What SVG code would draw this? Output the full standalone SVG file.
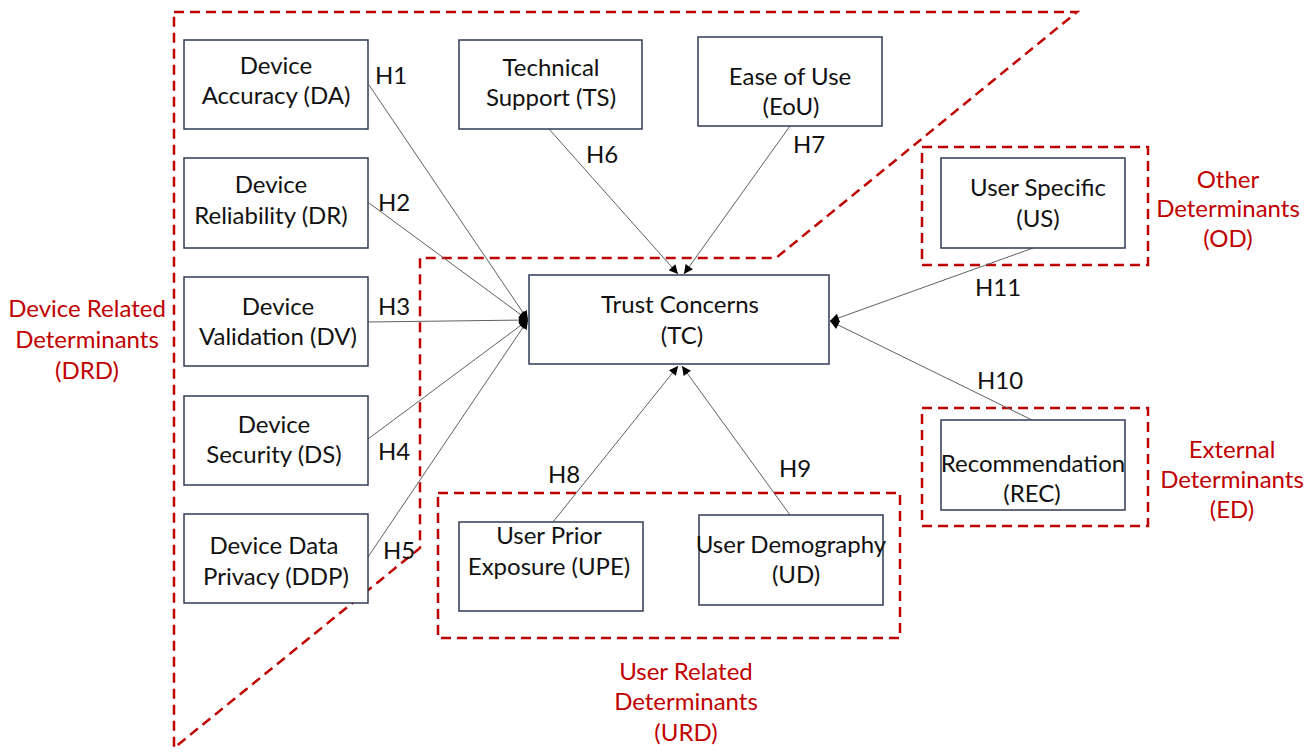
<svg xmlns="http://www.w3.org/2000/svg" width="1315" height="752" viewBox="0 0 1315 752">
  <style>
    .box { fill: #ffffff; stroke: #2f3b55; stroke-width: 1.5; }
    .region { fill: none; stroke: #c00000; stroke-width: 2.5; stroke-dasharray: 10 6; }
    .link { stroke: #606060; stroke-width: 1; fill: none; marker-end: url(#head); }
    .t { font-family: Lato, "Liberation Sans", sans-serif; font-size: 24px; fill: #111111; text-anchor: middle; }
    .h { font-family: Lato, "Liberation Sans", sans-serif; font-size: 24px; fill: #111111; }
    .r { font-family: Lato, "Liberation Sans", sans-serif; font-size: 24px; fill: #c00000; text-anchor: middle; }
  </style>
  <defs>
    <marker id="head" viewBox="0 0 10 10" refX="10" refY="5" markerWidth="10" markerHeight="9" markerUnits="userSpaceOnUse" orient="auto">
      <path d="M0,0 L10,5 L0,10 z" fill="#000000"/>
    </marker>
  </defs>

  <!-- dashed determinant regions -->
  <g id="regions">
    <polygon id="drd-region" class="region" points="174,12 1077,12 776,258 420,258 420,548 174,748"/>
    <rect id="od-region" class="region" x="922" y="147" width="226" height="118"/>
    <rect id="ed-region" class="region" x="922" y="408" width="226" height="118"/>
    <rect id="urd-region" class="region" x="438" y="493" width="462" height="145"/>
  </g>

  <!-- hypothesis connectors -->
  <g id="connectors">
    <line class="link" x1="369" y1="85" x2="528" y2="320"/>
    <line class="link" x1="369" y1="203" x2="528" y2="320"/>
    <line class="link" x1="368" y1="322" x2="528" y2="320"/>
    <line class="link" x1="368" y1="439" x2="528" y2="320"/>
    <line class="link" x1="368" y1="557" x2="528" y2="320"/>
    <line class="link" x1="549" y1="129" x2="678" y2="274"/>
    <line class="link" x1="790" y1="126" x2="684" y2="274"/>
    <line class="link" x1="553" y1="522" x2="678" y2="366"/>
    <line class="link" x1="790" y1="515" x2="682" y2="366"/>
    <line class="link" x1="1033" y1="248" x2="830" y2="321"/>
    <line class="link" x1="1032" y1="420" x2="830" y2="321"/>
  </g>

  <!-- hypothesis labels -->
  <g id="hypotheses">
    <text class="h" x="375" y="84">H1</text>
    <text class="h" x="378" y="211">H2</text>
    <text class="h" x="378" y="315">H3</text>
    <text class="h" x="378" y="460">H4</text>
    <text class="h" x="383" y="559">H5</text>
    <text class="h" x="586" y="163">H6</text>
    <text class="h" x="793" y="153">H7</text>
    <text class="h" x="548" y="483">H8</text>
    <text class="h" x="779" y="477">H9</text>
    <text class="h" x="977" y="389">H10</text>
    <text class="h" x="975" y="296">H11</text>
  </g>

  <!-- construct nodes -->
  <g id="node-da">
    <rect class="box" x="184" y="40" width="184" height="89"/>
    <text class="t" x="276" y="74">Device</text>
    <text class="t" x="276" y="104">Accuracy (DA)</text>
  </g>
  <g id="node-dr">
    <rect class="box" x="184" y="158" width="184" height="90"/>
    <text class="t" x="271" y="193">Device</text>
    <text class="t" x="271" y="224">Reliability (DR)</text>
  </g>
  <g id="node-dv">
    <rect class="box" x="184" y="277" width="184" height="89"/>
    <text class="t" x="278" y="315">Device</text>
    <text class="t" x="278" y="345">Validation (DV)</text>
  </g>
  <g id="node-ds">
    <rect class="box" x="184" y="396" width="184" height="89"/>
    <text class="t" x="274" y="433">Device</text>
    <text class="t" x="274" y="463">Security (DS)</text>
  </g>
  <g id="node-ddp">
    <rect class="box" x="184" y="514" width="184" height="89"/>
    <text class="t" x="274" y="554">Device Data</text>
    <text class="t" x="276" y="585">Privacy (DDP)</text>
  </g>
  <g id="node-ts">
    <rect class="box" x="459" y="40" width="183" height="89"/>
    <text class="t" x="551" y="76">Technical</text>
    <text class="t" x="551" y="106">Support (TS)</text>
  </g>
  <g id="node-eou">
    <rect class="box" x="698" y="37" width="184" height="89"/>
    <text class="t" x="790" y="85">Ease of Use</text>
    <text class="t" x="791" y="115">(EoU)</text>
  </g>
  <g id="node-tc">
    <rect class="box" x="529" y="275" width="300" height="89"/>
    <text class="t" x="680" y="313">Trust Concerns</text>
    <text class="t" x="682" y="344">(TC)</text>
  </g>
  <g id="node-us">
    <rect class="box" x="941" y="158" width="184" height="90"/>
    <text class="t" x="1038" y="196">User Specific</text>
    <text class="t" x="1038" y="227">(US)</text>
  </g>
  <g id="node-rec">
    <rect class="box" x="941" y="420" width="184" height="90"/>
    <text class="t" x="1033" y="472">Recommendation</text>
    <text class="t" x="1032" y="502">(REC)</text>
  </g>
  <g id="node-upe">
    <rect class="box" x="459" y="522" width="184" height="89"/>
    <text class="t" x="549" y="544">User Prior</text>
    <text class="t" x="549" y="575">Exposure (UPE)</text>
  </g>
  <g id="node-ud">
    <rect class="box" x="699" y="515" width="184" height="90"/>
    <text class="t" x="791" y="553">User Demography</text>
    <text class="t" x="796" y="583">(UD)</text>
  </g>

  <!-- region captions -->
  <g id="captions">
    <text class="r" x="87" y="317">Device Related</text>
    <text class="r" x="87" y="348">Determinants</text>
    <text class="r" x="87" y="379">(DRD)</text>
    <text class="r" x="1228" y="188">Other</text>
    <text class="r" x="1228" y="217">Determinants</text>
    <text class="r" x="1228" y="247">(OD)</text>
    <text class="r" x="1232" y="458">External</text>
    <text class="r" x="1232" y="488">Determinants</text>
    <text class="r" x="1232" y="518">(ED)</text>
    <text class="r" x="686" y="680">User Related</text>
    <text class="r" x="686" y="710">Determinants</text>
    <text class="r" x="686" y="741">(URD)</text>
  </g>
</svg>
